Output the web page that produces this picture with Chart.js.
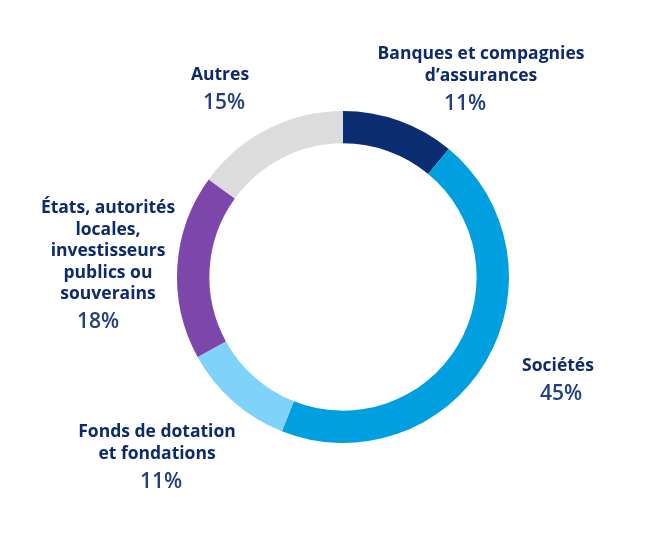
<!DOCTYPE html>
<html>
<head>
<meta charset="utf-8">
<script src="https://cdn.jsdelivr.net/npm/chart.js@4"></script>
<style>
html,body{margin:0;padding:0;background:#fff;}
#wrap{width:662px;height:533px;position:relative;}
</style>
</head>
<body>
<div id="wrap"><canvas id="c" width="662" height="533"></canvas></div>
<script>
const categories = [
  ["Banques et compagnies", "d\u2019assurances"],
  ["Soci\u00e9t\u00e9s"],
  ["Fonds de dotation", "et fondations"],
  ["\u00c9tats, autorit\u00e9s", "locales,", "investisseurs", "publics ou", "souverains"],
  ["Autres"]
];
const values = [11, 45, 11, 18, 15];
const colors = ["#0b2d72", "#009fe0", "#7fd2fa", "#7c46ab", "#dcdcdc"];

// label anchor (center x, first line baseline y) offsets relative to doughnut center,
// plus horizontal shift of the percentage line
const labelAnchors = [
  {dx: 138, dy: -218, pdx: -16},
  {dx: 215, dy: 94, pdx: 3},
  {dx: -186, dy: 160, pdx: 4},
  {dx: -235, dy: -64, pdx: -10},
  {dx: -123, dy: -197, pdx: 4}
];

const labelPlugin = {
  id: 'sliceLabels',
  afterDraw(chart) {
    const ctx = chart.ctx;
    const arc = chart.getDatasetMeta(0).data[0];
    const cx = arc.x, cy = arc.y;
    ctx.save();
    ctx.textAlign = 'center';
    ctx.textBaseline = 'alphabetic';
    categories.forEach((lines, i) => {
      const a = labelAnchors[i];
      const x = cx + a.dx;
      let y = cy + a.dy;
      ctx.fillStyle = '#0d2a6a';
      ctx.font = 'bold 17.5px "Open Sans"';
      lines.forEach((ln, k) => {
        ctx.fillText(ln, x, y + k * 21.5);
      });
      const py = y + (lines.length - 1) * 21.5 + 29;
      ctx.fillStyle = '#22407e';
      ctx.font = '600 21px "Open Sans"';
      ctx.fillText(values[i] + '%', x + a.pdx, py);
    });
    ctx.restore();
  }
};

new Chart(document.getElementById('c'), {
  type: 'doughnut',
  data: {
    labels: categories.map(l => l.join(' ')),
    datasets: [{
      data: values,
      backgroundColor: colors,
      borderWidth: 0,
      hoverOffset: 0
    }]
  },
  options: {
    responsive: false,
    maintainAspectRatio: false,
    animation: false,
    cutout: '80.5%',
    layout: {padding: {left: 177, right: 153, top: 111, bottom: 90}},
    plugins: {legend: {display: false}, tooltip: {enabled: false}}
  },
  plugins: [labelPlugin]
});
</script>
</body>
</html>
